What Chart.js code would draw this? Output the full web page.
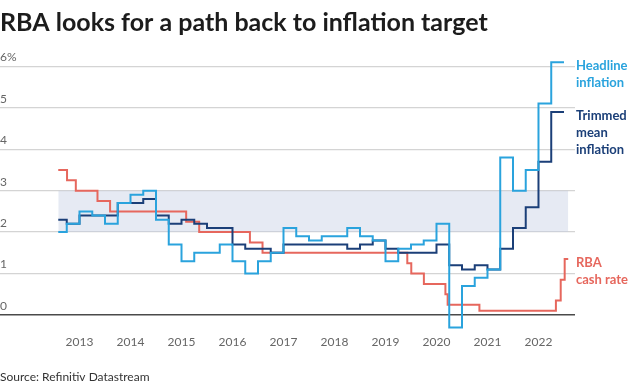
<!DOCTYPE html>
<html>
<head>
<meta charset="utf-8">
<script src="https://cdn.jsdelivr.net/npm/chart.js@4.4.1/dist/chart.umd.min.js"></script>
<style>
    html, body { margin: 0; padding: 0; background: #fff; }
    #parent { width: 640px; height: 388px; position: relative; }
</style>
</head>
<body>
<div id="parent"><canvas id="myChart"></canvas></div>
<script>
// quarterly inflation, y/y %, each value held through its quarter
var quarters = [
    '2012Q3','2012Q4',
    '2013Q1','2013Q2','2013Q3','2013Q4',
    '2014Q1','2014Q2','2014Q3','2014Q4',
    '2015Q1','2015Q2','2015Q3','2015Q4',
    '2016Q1','2016Q2','2016Q3','2016Q4',
    '2017Q1','2017Q2','2017Q3','2017Q4',
    '2018Q1','2018Q2','2018Q3','2018Q4',
    '2019Q1','2019Q2','2019Q3','2019Q4',
    '2020Q1','2020Q2','2020Q3','2020Q4',
    '2021Q1','2021Q2','2021Q3','2021Q4',
    '2022Q1','2022Q2'
];
var headline = [
    2.0, 2.2,
    2.5, 2.4, 2.2, 2.7,
    2.9, 3.0, 2.3, 1.7,
    1.3, 1.5, 1.5, 1.7,
    1.3, 1.0, 1.3, 1.5,
    2.1, 1.9, 1.8, 1.9,
    1.9, 2.1, 1.9, 1.8,
    1.3, 1.6, 1.7, 1.8,
    2.2, -0.3, 0.7, 0.9,
    1.1, 3.8, 3.0, 3.5,
    5.1, 6.1
];
var trimmedMean = [
    2.3, 2.2,
    2.4, 2.4, 2.4, 2.7,
    2.7, 2.8, 2.4, 2.2,
    2.3, 2.2, 2.1, 2.1,
    1.7, 1.6, 1.6, 1.5,
    1.7, 1.7, 1.7, 1.7,
    1.7, 1.6, 1.7, 1.8,
    1.6, 1.5, 1.5, 1.5,
    1.7, 1.2, 1.1, 1.2,
    1.1, 1.6, 2.1, 2.6,
    3.7, 4.9
];
// RBA cash rate target, date of each change
var cashRateDates = [
    '2012-08-01','2012-10-03','2012-12-05','2013-05-08','2013-08-07',
    '2015-02-04','2015-05-06','2016-05-04','2016-08-03',
    '2019-06-05','2019-07-03','2019-10-02','2020-03-04','2020-03-20',
    '2020-11-04','2022-05-04','2022-06-08','2022-07-06'
];
var cashRate = [
    3.5, 3.25, 3.0, 2.75, 2.5,
    2.25, 2.0, 1.75, 1.5,
    1.25, 1.0, 0.75, 0.5, 0.25,
    0.1, 0.35, 0.85, 1.35
];
var targetBand = [2, 3];
var seriesStart = '2012-08-01';
var inflationEnd = '2022-07-01';
var cashRateEnd = '2022-08-01';
var yearTicks = [2013,2014,2015,2016,2017,2018,2019,2020,2021,2022];
var yTicks = [0,1,2,3,4,5,6];

var headlineColor = '#2aa3dd';
var trimmedColor = '#1b3f78';
var cashColor = '#e6675d';

function toYear(s) {
    var p = s.split('-');
    return +p[0] + (p[1] - 1) / 12 + (p[2] - 1) / 365;
}
function quarterStart(q) {
    return +q.slice(0, 4) + (q.slice(5) - 1) / 4;
}
function steps(xs, ys, end) {
    var start = toYear(seriesStart);
    var pts = xs.map(function(x, i) { return {x: Math.max(x, start), y: ys[i]}; });
    pts.push({x: toYear(end), y: ys[ys.length - 1]});
    return pts;
}

var notes = [
    {ds: 0, color: headlineColor, lines: ['Headline', 'inflation']},
    {ds: 1, color: trimmedColor, lines: ['Trimmed', 'mean', 'inflation']},
    {ds: 2, color: cashColor, lines: ['RBA', 'cash rate']}
];

var textPlugin = {
    id: 'texts',
    afterDatasetsDraw: function(chart) {
        var ctx = chart.ctx;
        var area = chart.chartArea;
        ctx.save();
        ctx.textAlign = 'left';
        ctx.textBaseline = 'middle';
        ctx.font = 'bold 13px Lato';
        notes.forEach(function(n) {
            var pts = chart.getDatasetMeta(n.ds).data;
            var y = pts[pts.length - 1].y + 4;
            ctx.fillStyle = n.color;
            n.lines.forEach(function(t, i) {
                ctx.fillText(t, area.right + 1, y + i * 17);
            });
        });
        ctx.textBaseline = 'alphabetic';
        ctx.fillStyle = '#1c1c1c';
        ctx.font = 'bold 25px Lato';
        ctx.fillText('RBA looks for a path back to inflation target', 0, 31);
        ctx.fillStyle = '#333';
        ctx.font = '12px Lato';
        ctx.fillText('Source: Refinitiv Datastream', 0, 381);
        ctx.restore();
    }
};

Chart.defaults.font.family = 'Lato';
Chart.defaults.font.size = 12;

var ctx = document.getElementById('myChart');
new Chart(ctx, {
    type: 'line',
    data: {
        datasets: [{
            label: 'Headline inflation',
            data: steps(quarters.map(quarterStart), headline, inflationEnd),
            borderColor: headlineColor,
            borderWidth: 2,
            stepped: true,
            pointRadius: 0
        },
        {
            label: 'Trimmed mean inflation',
            data: steps(quarters.map(quarterStart), trimmedMean, inflationEnd),
            borderColor: trimmedColor,
            borderWidth: 2,
            stepped: true,
            pointRadius: 0
        },
        {
            label: 'RBA cash rate',
            data: steps(cashRateDates.map(toYear), cashRate, cashRateEnd),
            borderColor: cashColor,
            borderWidth: 2,
            stepped: true,
            pointRadius: 0
        },
        {
            label: 'Target band',
            data: [{x: toYear(seriesStart), y: targetBand[1]}, {x: toYear(cashRateEnd), y: targetBand[1]}],
            borderWidth: 0,
            pointRadius: 0,
            backgroundColor: 'rgba(196,206,226,0.42)',
            fill: {value: targetBand[0]}
        }]
    },
    options: {
        responsive: true,
        maintainAspectRatio: false,
        animation: false,
        layout: {
            padding: {top: 58, right: 65, bottom: 36, left: 0}
        },
        plugins: {
            legend: {display: false},
            tooltip: {enabled: false}
        },
        scales: {
            x: {
                type: 'linear',
                min: 2011.441,
                max: 2022.716,
                afterBuildTicks: function(axis) {
                    axis.ticks = yearTicks.map(function(v) { return {value: v}; });
                },
                grid: {display: false, drawTicks: false},
                border: {display: false},
                ticks: {
                    color: '#666',
                    padding: 3,
                    maxRotation: 0,
                    callback: function(v) { return String(v); }
                }
            },
            y: {
                min: -0.4,
                max: 6.2,
                afterBuildTicks: function(axis) {
                    axis.ticks = yTicks.map(function(v) { return {value: v}; });
                },
                grid: {
                    drawTicks: false,
                    color: function(c) { return c.tick && c.tick.value === 0 ? '#4a4a4a' : '#d4d4d4'; },
                    lineWidth: function(c) { return c.tick && c.tick.value === 0 ? 1.5 : 1.3; }
                },
                border: {display: false},
                ticks: {
                    mirror: true,
                    padding: 0,
                    labelOffset: -9,
                    color: '#666',
                    callback: function(v) { return v === 6 ? '6%' : String(v); }
                }
            }
        }
    },
    plugins: [textPlugin]
});
</script>
</body>
</html>
